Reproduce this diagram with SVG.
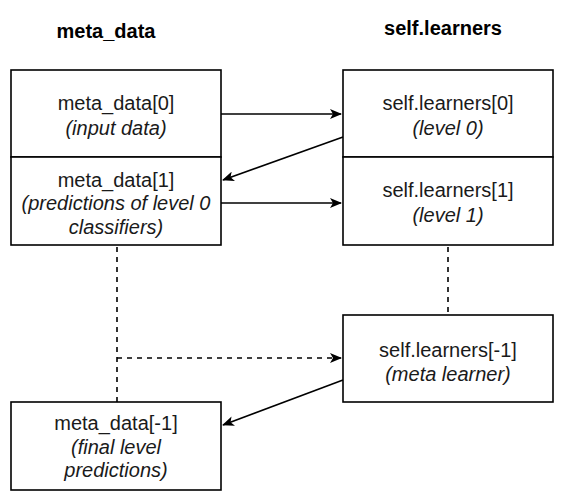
<svg xmlns="http://www.w3.org/2000/svg" width="565" height="502" viewBox="0 0 565 502">
<defs>
<marker id="arr" markerWidth="12" markerHeight="10" refX="11" refY="5" orient="auto" markerUnits="userSpaceOnUse">
<path d="M0,0 L12,5 L0,10 L3,5 Z" fill="#000"/>
</marker>
<style>
.box{fill:#fff;stroke:#000;stroke-width:1.6}
.t{font-family:"Liberation Sans",Arial,sans-serif;font-size:20px;fill:#1a1a1a;text-anchor:middle}
.i{font-style:italic}
.h{font-family:"Liberation Sans",Arial,sans-serif;font-size:20px;font-weight:bold;fill:#000;text-anchor:middle}
.c{fill:none;stroke:#000;stroke-width:1.6}
.d{fill:none;stroke:#000;stroke-width:1.6;stroke-dasharray:5 5}
</style>
</defs>
<rect width="565" height="502" fill="#fff"/>
<text class="h" x="106" y="38">meta_data</text>
<text class="h" x="443" y="35">self.learners</text>
<g id="connectors">
<path class="d" d="M117,247 L117,402"/>
<path class="d" d="M448,247 L448,315"/>
<path class="d" d="M117,358 L341,358" marker-end="url(#arr)"/>
<path class="c" d="M221,114 L341,114" marker-end="url(#arr)"/>
<path class="c" d="M343,137 L223,180" marker-end="url(#arr)"/>
<path class="c" d="M221,203 L341,203" marker-end="url(#arr)"/>
<path class="c" d="M343,380 L223,425" marker-end="url(#arr)"/>
</g>
<g id="md0">
<rect class="box" x="11" y="70" width="210" height="87"/>
<text class="t" x="116" y="110">meta_data[0]</text>
<text class="t i" x="116" y="135">(input data)</text>
</g>
<g id="md1">
<rect class="box" x="11" y="157" width="210" height="88"/>
<text class="t" x="116" y="187">meta_data[1]</text>
<text class="t i" x="116" y="210">(predictions of level 0</text>
<text class="t i" x="116" y="234">classifiers)</text>
</g>
<g id="sl0">
<rect class="box" x="343" y="70" width="210" height="87"/>
<text class="t" x="448" y="110">self.learners[0]</text>
<text class="t i" x="448" y="135">(level 0)</text>
</g>
<g id="sl1">
<rect class="box" x="343" y="157" width="210" height="88"/>
<text class="t" x="448" y="197">self.learners[1]</text>
<text class="t i" x="448" y="222">(level 1)</text>
</g>
<g id="slm">
<rect class="box" x="343" y="315" width="210" height="87"/>
<text class="t" x="448" y="357">self.learners[-1]</text>
<text class="t i" x="448" y="381">(meta learner)</text>
</g>
<g id="mdf">
<rect class="box" x="11" y="402" width="210" height="88"/>
<text class="t" x="116" y="430">meta_data[-1]</text>
<text class="t i" x="116" y="454">(final level</text>
<text class="t i" x="116" y="477">predictions)</text>
</g>
</svg>
